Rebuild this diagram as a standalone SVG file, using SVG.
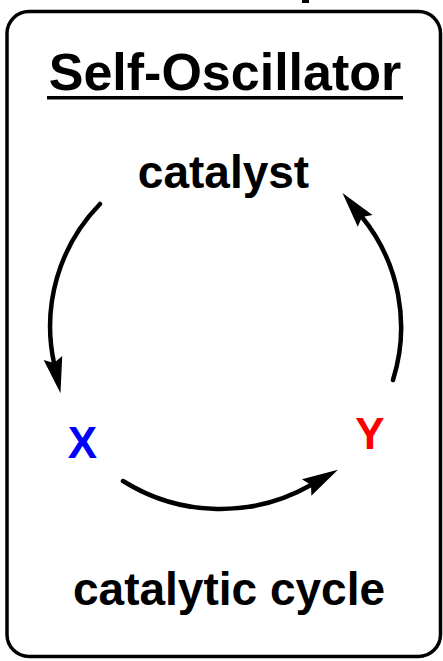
<svg xmlns="http://www.w3.org/2000/svg" width="443" height="661" viewBox="0 0 443 661">
<style>
.t{font-family:"Liberation Sans",Arial,Helvetica,sans-serif;font-weight:bold;text-anchor:middle;fill:#000}
.arc{fill:none;stroke:#000;stroke-width:4.5;stroke-linecap:round}
</style>
<defs>
<marker id="ah" viewBox="-37 -11 38 22" markerWidth="38" markerHeight="22" refX="-31" refY="0" orient="auto" markerUnits="userSpaceOnUse" overflow="visible">
<path d="M0,0 L-36,-9.5 L-31,0 L-36,9.5 Z" fill="#000"/>
</marker>
</defs>
<rect x="0" y="0" width="443" height="661" fill="#fff"/>
<rect x="302" y="0" width="7" height="3" fill="#000"/>
<g id="frame">
<rect x="7" y="11.5" width="433.5" height="645" rx="22" ry="22" fill="none" stroke="#000" stroke-width="3.5"/>
</g>
<g id="title">
<text class="t" x="225" y="90" font-size="52">Self-Oscillator</text>
<rect x="47" y="96" width="356" height="3.5" fill="#000"/>
</g>
<g id="catalyst"><text class="t" x="223.5" y="188" font-size="46">catalyst</text></g>
<g id="X"><text class="t" x="82.5" y="458" font-size="44" style="fill:#0000ff">X</text></g>
<g id="Y"><text class="t" x="370" y="449" font-size="44" style="fill:#ff0000">Y</text></g>
<g id="cycle"><text class="t" x="229" y="605" font-size="46">catalytic cycle</text></g>
<g id="connectors">
<path class="arc" d="M100,204 A175,175 0 0 0 54,363" marker-end="url(#ah)"/>
<path class="arc" d="M123,481 A183,183 0 0 0 311,485" marker-end="url(#ah)"/>
<path class="arc" d="M393,380 A175,175 0 0 0 362,217" marker-end="url(#ah)"/>
</g>
</svg>
